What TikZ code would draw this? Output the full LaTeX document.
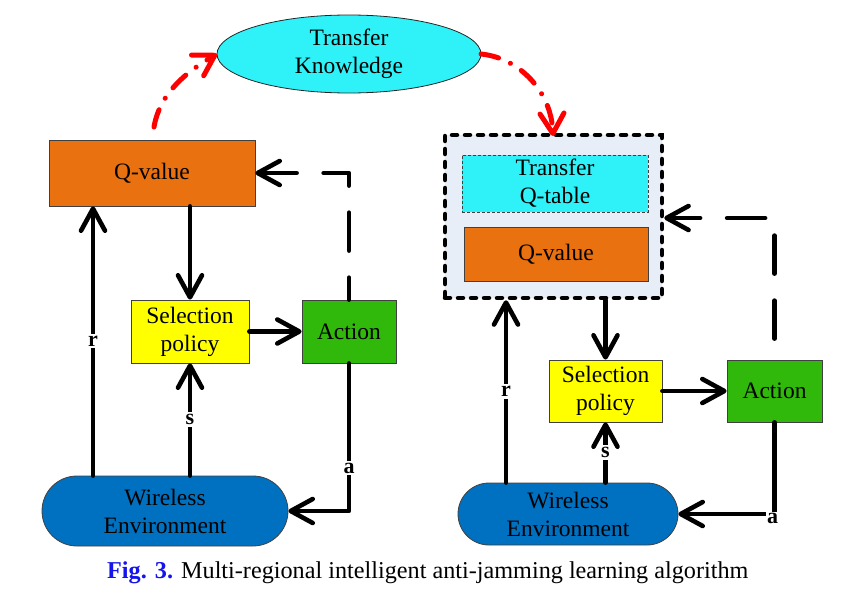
\documentclass[tikz,border=0pt]{standalone}
\usepackage{fontspec}
\setmainfont{Liberation Serif}
\usetikzlibrary{arrows.meta,calc}
\definecolor{kcyan}{RGB}{46,242,248}
\definecolor{korange}{RGB}{233,113,16}
\definecolor{kyellow}{RGB}{255,255,0}
\definecolor{kgreen}{RGB}{48,185,10}
\definecolor{kblue}{RGB}{0,112,192}
\definecolor{klight}{RGB}{232,238,248}
\definecolor{kcap}{RGB}{20,20,235}
\definecolor{kred}{RGB}{255,0,0}
\tikzset{
  txt/.style={font=\fontsize{23.5}{28}\selectfont, align=center, inner sep=0pt},
  box/.style={txt, draw=black!75, line width=0.8pt, rectangle},
  arr/.style={line width=4.6pt, line cap=round, line join=round,
    -{Straight Barb[round, length=22pt, width=24pt, line width'=4.6pt]}},
  fbl/.style={arr, dash pattern=on 38pt off 27pt, dash phase=16pt},
  fbr/.style={arr, dash pattern=on 38pt off 27pt, dash phase=44pt},
  redarr/.style={line width=5pt, kred, line cap=round,
    dash pattern=on 18pt off 13pt on 0.1pt off 13pt,
    -{Straight Barb[round, length=20pt, width=24pt, line width'=5pt]}},
  lab/.style={font=\fontsize{22}{24}\selectfont\bfseries, fill=white, inner sep=2pt}
}
\begin{document}
\begin{tikzpicture}[x=1pt,y=-1pt]
\useasboundingbox (0,0) rectangle (866,610);
% top ellipse
\draw[draw=black!85, fill=kcyan, line width=0.8pt] (349,54) ellipse [x radius=132, y radius=39];
\node[txt] (EK) at (349,54) {Transfer\\Knowledge};
\coordinate (EKw) at (217,54);
\coordinate (EKe) at (481,54);
% left side
\node[box, fill=korange, minimum width=206pt, minimum height=66pt] (QL) at (152,173) {Q-value};
\node[box, fill=kyellow, minimum width=118pt, minimum height=63pt] (SL) at (190,331.5) {Selection\\policy};
\node[box, fill=kgreen, minimum width=94pt, minimum height=63pt] (AL) at (349,331.5) {Action};
\node[box, fill=kblue, minimum width=246pt, minimum height=70pt, rounded corners=35pt] (WL) at (165,511) {Wireless\\Environment};
% right side
\node[draw=black, fill=klight, line width=4.5pt, line cap=round, dash pattern=on 5pt off 8pt,
  minimum width=217pt, minimum height=163pt, inner sep=0pt] (OB) at (553.5,216.5) {};
\node[box, fill=kcyan, dash pattern=on 3pt off 2pt, minimum width=186pt, minimum height=57pt] (TQ) at (555,183.5) {Transfer\\Q-table};
\node[box, fill=korange, minimum width=184pt, minimum height=54pt] (QR) at (556,254) {Q-value};
\node[box, fill=kyellow, minimum width=113pt, minimum height=62pt] (SR) at (605.5,391) {Selection\\policy};
\node[box, fill=kgreen, minimum width=95pt, minimum height=62pt] (AR) at (774.5,391) {Action};
\node[box, fill=kblue, minimum width=220pt, minimum height=62pt, rounded corners=31pt] (WR) at (568,514) {Wireless\\Environment};
% left connectors
\coordinate (rL) at (93,0);
\draw[arr] (WL.north -| rL) -- node[lab, pos=0.5] {r} (QL.south -| rL);
\draw[arr] (QL.south -| SL.north) -- (SL.north);
\draw[arr] (WL.north -| SL.south) -- node[lab, pos=0.5] {s} (SL.south);
\draw[arr] (SL.east) -- (AL.west);
\draw[arr] (AL.south) -- node[lab, pos=0.71] {a} (AL.south |- WL.east) -- (WL.east);
\draw[fbl] (AL.north) -- (AL.north |- QL.east) -- (QL.east);
% right connectors
\coordinate (rR) at (506,0);
\coordinate (fR) at (0,218);
\draw[arr] (WR.north -| rR) -- node[lab, pos=0.5] {r} (OB.south -| rR);
\draw[arr] (OB.south -| SR.north) -- (SR.north);
\draw[arr] (WR.north -| SR.south) -- node[lab, pos=0.5] {s} (SR.south);
\draw[arr] (SR.east) -- (AR.west);
\draw[arr] (AR.south) -- (AR.south |- WR.east) coordinate (cR) -- (WR.east);
\node[lab, inner sep=1pt] (aR) at ($(cR)+(-2,4)$) {a};
\draw[fbr] (AR.north) -- (AR.north |- fR) -- (OB.east |- fR);
% red transfer arrows
\coordinate (rs) at (154,127);
\coordinate (re) at (553,136);
\draw[redarr] (rs) .. controls (160,92) and (188,71) .. (EKw);
\draw[redarr] (EKe) .. controls (520,58) and (551,92) .. (re);
% caption
\node[txt, anchor=west, font=\fontsize{24.2}{28}\selectfont] (cap) at (107,573)
  {{\color{kcap}\bfseries Fig. 3.} Multi-regional intelligent anti-jamming learning algorithm};
\end{tikzpicture}
\end{document}
